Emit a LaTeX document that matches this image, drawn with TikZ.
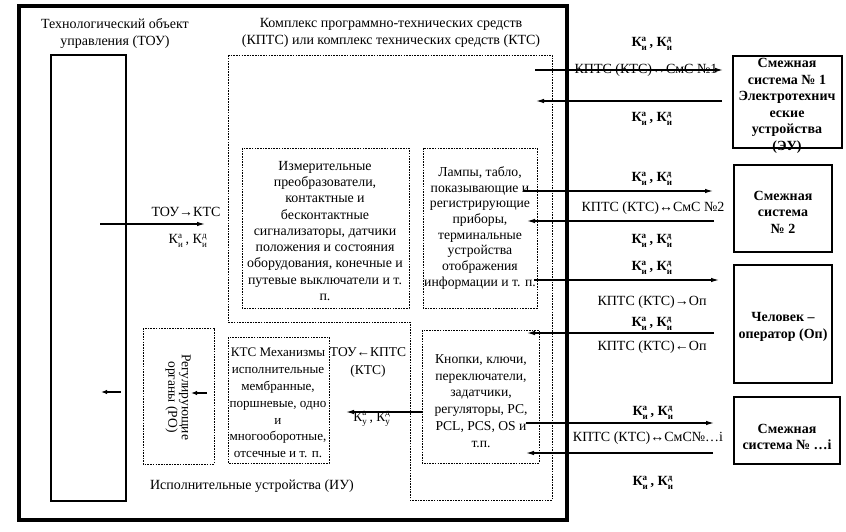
\documentclass[tikz,border=0pt]{standalone}
\usepackage{fontspec}
\setmainfont{Liberation Serif}
\usetikzlibrary{arrows.meta}
\newcommand{\Kx}[2]{$\mbox{К}^{\mbox{\fontsize{9}{9}\selectfont #1}}_{\mbox{\fontsize{9}{9}\selectfont #2}}$}
\newcommand{\Kpair}{\Kx{а}{и}\,, \Kx{д}{и}}
\begin{document}
\begin{tikzpicture}[x=1pt,y=-1pt,
  txt/.style={font=\fontsize{14}{17}\selectfont, align=center, inner sep=0pt},
  boxtxt/.style={align=center, inner sep=0pt},
  btxt/.style={font=\fontsize{14}{16.5}\selectfont\bfseries, align=center, inner sep=0pt},
  dotbox/.style={draw, line width=0.8pt, dash pattern=on 1.6pt off 1.1pt},
  solidbox/.style={draw, line width=1.3pt},
  arr/.style={line width=1.2pt, -{Latex[length=8pt,width=4.5pt]}},
  frame/.style={line width=4.5pt}
]
\useasboundingbox (0,0) rectangle (846,532);
\fill[white] (0,0) rectangle (846,532);

% outer thick frame
\draw[frame] (19,6) rectangle (567,520);

% titles
\node[txt] (t1) at (115,34) {Технологический объект\\управления (ТОУ)};
\node[txt] (t2) at (391,33) {Комплекс программно-технических средств\\(КПТС) или комплекс технических средств (КТС)};

% TOU box
\draw[line width=1.2pt] (51,55) rectangle (126,501);

% KPTS polygon (dotted)
\draw[dotbox] (228,55) -- (552,55) -- (552,500) -- (410,500) -- (410,322) -- (228,322) -- cycle;

% inner dotted boxes
\draw[dotbox] (242,148) rectangle (409,308);
\node[boxtxt, font=\fontsize{13.9}{16.25}\selectfont] (meas) at (325,231) {Измерительные\\преобразователи,\\контактные и\\бесконтактные\\сигнализаторы, датчики\\положения и состояния\\оборудования, конечные и\\путевые выключатели и т.\\п.};

\draw[dotbox] (423,148) rectangle (537,308);
\node[boxtxt, font=\fontsize{13.7}{15.7}\selectfont] (lamp) at (480,228) {Лампы, табло,\\показывающие и\\регистрирующие\\приборы,\\терминальные\\устройства\\отображения\\информации и т. п.};

\draw[dotbox] (228,337) rectangle (329,463);
\node[boxtxt, font=\fontsize{13.1}{16.8}\selectfont] (mech) at (278,403) {КТС Механизмы\\исполнительные\\мембранные,\\поршневые, одно\\и\\многооборотные,\\отсечные и т. п.};

\draw[dotbox] (422,330) rectangle (539,463);
\node[boxtxt, font=\fontsize{13.6}{16.8}\selectfont] (knop) at (481,401) {Кнопки, ключи,\\переключатели,\\задатчики,\\регуляторы, PC,\\PCL, PCS, OS и\\т.п.};

\draw[dotbox] (143,328) rectangle (214,464);
\node[boxtxt, rotate=-90, font=\fontsize{13.5}{13.5}\selectfont] (ro) at (178,397) {Регулирующие\\органы (РО)};

\node[txt] (iu) at (252,486) {Исполнительные устройства (ИУ)};
\node[boxtxt, font=\fontsize{13.5}{18}\selectfont] (toukpts) at (368,362) {ТОУ←КПТС\\(КТС)};
\node[boxtxt, font=\fontsize{13.5}{16}\selectfont] (ky) at (372,419) {\Kx{а}{у}\,, \Kx{д}{у}};

% left arrow TOU -> KTS
\node[txt] (toukts) at (186,212) {ТОУ→КТС};
\node[txt] (kl) at (188,241) {\Kpair};
\coordinate (a0s) at (100,224);
\coordinate (a0e) at (205,224);
\draw[arr] (a0s) -- (a0e);

% arrows near RO / TOU
\coordinate (b1s) at (207,393);
\coordinate (b1e) at (191,393);
\draw[line width=1.2pt, -{Latex[length=6pt,width=4.5pt]}] (b1s) -- (b1e);
\coordinate (b2s) at (121,392);
\coordinate (b2e) at (101,392);
\draw[line width=1.2pt, -{Latex[length=6pt,width=4.5pt]}] (b2s) -- (b2e);

% knopki -> mechanisms
\coordinate (c1s) at (423,412);
\coordinate (c1e) at (346,412);
\draw[arr] (c1s) -- (c1e);

% right boxes
\draw[solidbox] (733,56) rectangle (842,148);
\node[btxt] (s1) at (787,106) {Смежная\\система № 1\\Электротехнич\\еские\\устройства\\(ЭУ)};
\draw[solidbox] (734,165) rectangle (832,252);
\node[btxt] (s2) at (783,212) {Смежная\\система\\№ 2};
\draw[solidbox] (734,265) rectangle (832,383);
\node[btxt] (op) at (783,327) {Человек –\\оператор (Оп)};
\draw[solidbox] (734,397) rectangle (840,464);
\node[btxt] (si) at (787,437) {Смежная\\система № …i};

% right arrows
\coordinate (r1s) at (535,70);  \coordinate (r1e) at (723,70);
\coordinate (r2s) at (722,101); \coordinate (r2e) at (536,101);
\coordinate (r3s) at (524,191); \coordinate (r3e) at (713,191);
\coordinate (r4s) at (714,221); \coordinate (r4e) at (527,221);
\coordinate (r5s) at (534,280); \coordinate (r5e) at (719,280);
\coordinate (r6s) at (714,333); \coordinate (r6e) at (527,333);
\coordinate (r7s) at (526,423); \coordinate (r7e) at (714,423);
\coordinate (r8s) at (713,453); \coordinate (r8e) at (526,453);
\foreach \i in {1,...,8} {\draw[arr] (r\i s) -- (r\i e);}

% right labels
\node[btxt] (k1) at (652,44) {\Kpair};
\node[txt] (l1) at (646,70) {КПТС (КТС)↔СмС №1};
\node[btxt] (k2) at (652,119) {\Kpair};
\node[btxt] (k3) at (652,179) {\Kpair};
\node[txt] (l2) at (653,208) {КПТС (КТС)↔СмС №2};
\node[btxt] (k4) at (652,241) {\Kpair};
\node[btxt] (k5) at (652,268) {\Kpair};
\node[txt] (l3) at (652,302) {КПТС (КТС)→Оп};
\node[btxt] (k6) at (652,324) {\Kpair};
\node[txt] (l4) at (652,347) {КПТС (КТС)←Оп};
\node[btxt] (k7) at (653,413) {\Kpair};
\node[txt] (l5) at (648,438) {КПТС (КТС)↔СмС№…i};
\node[btxt] (k8) at (653,483) {\Kpair};
\end{tikzpicture}
\end{document}
